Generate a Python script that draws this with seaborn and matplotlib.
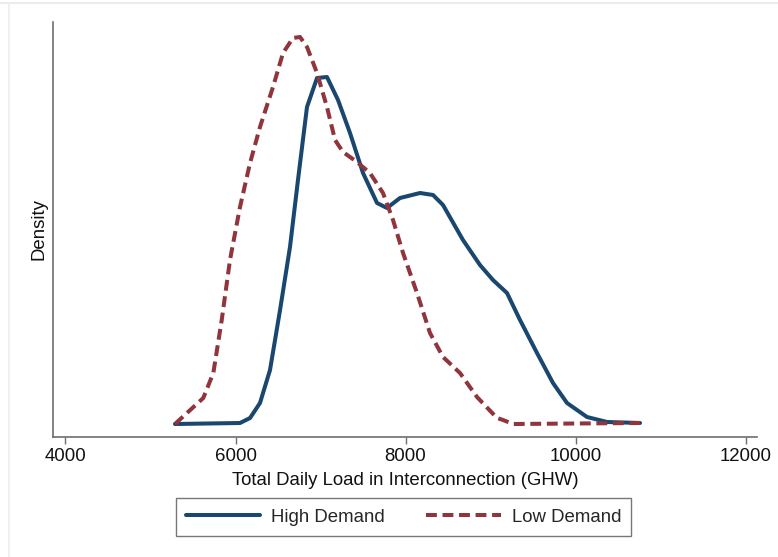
import matplotlib
matplotlib.use("Agg")
import matplotlib.pyplot as plt
import matplotlib.lines as mlines
import numpy as np
import pandas as pd
import seaborn as sns

# Kernel density estimates of total daily load (GHW), density in units of 1e-4
high_load = [5288, 6053, 6171, 6288, 6406, 6524, 6641, 6735, 6841, 6959, 7076,
             7206, 7347, 7500, 7665, 7782, 7935, 8171, 8324, 8441, 8488, 8676,
             8876, 9029, 9194, 9347, 9547, 9735, 9900, 10135, 10371, 10759]
high_density = [0.00, 0.01, 0.06, 0.21, 0.54, 1.14, 1.77, 2.44, 3.17, 3.46, 3.47,
                3.24, 2.91, 2.51, 2.21, 2.16, 2.26, 2.31, 2.29, 2.19, 2.12, 1.84,
                1.59, 1.44, 1.31, 1.04, 0.71, 0.41, 0.21, 0.07, 0.02, 0.01]

low_load = [5288, 5621, 5739, 5838, 5935, 6053, 6171, 6288, 6441, 6559, 6676,
            6759, 6841, 6959, 7076, 7171, 7265, 7429, 7582, 7735, 7853, 7971,
            8135, 8288, 8441, 8641, 8841, 9076, 9147, 9265, 10000, 10759]
low_density = [0.00, 0.26, 0.51, 1.04, 1.64, 2.17, 2.61, 2.97, 3.37, 3.71, 3.86,
               3.87, 3.77, 3.51, 3.17, 2.84, 2.72, 2.62, 2.51, 2.31, 2.04, 1.71,
               1.31, 0.91, 0.67, 0.51, 0.27, 0.06, 0.04, 0.00, 0.005, 0.01]

groups = ["High Demand", "Low Demand"]
x_ticks = [4000, 6000, 8000, 10000, 12000]

df = pd.concat([
    pd.DataFrame({"load": high_load, "density": high_density, "group": groups[0]}),
    pd.DataFrame({"load": low_load, "density": low_density, "group": groups[1]}),
], ignore_index=True)

sns.set_theme(style="white")
plt.rcParams["font.family"] = ["Liberation Sans", "DejaVu Sans"]

W, H = 778, 557
fig = plt.figure(figsize=(W / 100, H / 100), dpi=100)
ax = fig.add_axes([53 / W, (H - 437) / H, (757 - 53) / W, (437 - 22) / H])

palette = {"High Demand": "#1a476f", "Low Demand": "#90353b"}
dash_pattern = (2.7, 1.4)
dashes = {"High Demand": "", "Low Demand": dash_pattern}
lw = 2.9

sns.lineplot(data=df, x="load", y="density", hue="group", style="group",
             palette=palette, dashes=dashes, estimator=None, sort=False,
             linewidth=lw, ax=ax, legend=False)

fs = 13.4
ax.set_xlim(3853, 12135)
ax.set_ylim(-0.13, 4.02)
ax.set_xticks(x_ticks)
ax.set_xticklabels([str(t) for t in x_ticks], fontsize=fs, color="#111111")
ax.set_yticks([])
ax.set_xlabel("Total Daily Load in Interconnection (GHW)", fontsize=fs,
              color="#111111", labelpad=5)
ax.set_ylabel("Density", fontsize=fs, color="#111111", labelpad=4)

for side in ["top", "right"]:
    ax.spines[side].set_visible(False)
for side in ["left", "bottom"]:
    ax.spines[side].set_color("#6e6e6e")
    ax.spines[side].set_linewidth(1.2)
ax.tick_params(axis="x", direction="out", length=5, width=1.0, color="#6e6e6e",
               bottom=True, pad=3)

handles = [
    mlines.Line2D([], [], color=palette["High Demand"], linewidth=lw),
    mlines.Line2D([], [], color=palette["Low Demand"], linewidth=lw,
                  linestyle=(0, dash_pattern)),
]
leg = fig.legend(handles, groups, loc="center", ncol=2,
                 bbox_to_anchor=(403.5 / W, 1 - 517 / H),
                 frameon=True, fancybox=False, fontsize=fs,
                 handlelength=4.0, columnspacing=2.2, handletextpad=0.6,
                 borderpad=0.55, borderaxespad=0)
leg.get_frame().set_edgecolor("#555555")
leg.get_frame().set_linewidth(1.0)

# faint top and left edges of the graph region
fig.add_artist(mlines.Line2D([0, 1], [1 - 3 / H, 1 - 3 / H],
                             transform=fig.transFigure, color="#ececec", linewidth=1.5))
fig.add_artist(mlines.Line2D([9 / W, 9 / W], [0, 1 - 3 / H],
                             transform=fig.transFigure, color="#f0f0f0", linewidth=1.5))

fig.savefig("out.png", dpi=100)
